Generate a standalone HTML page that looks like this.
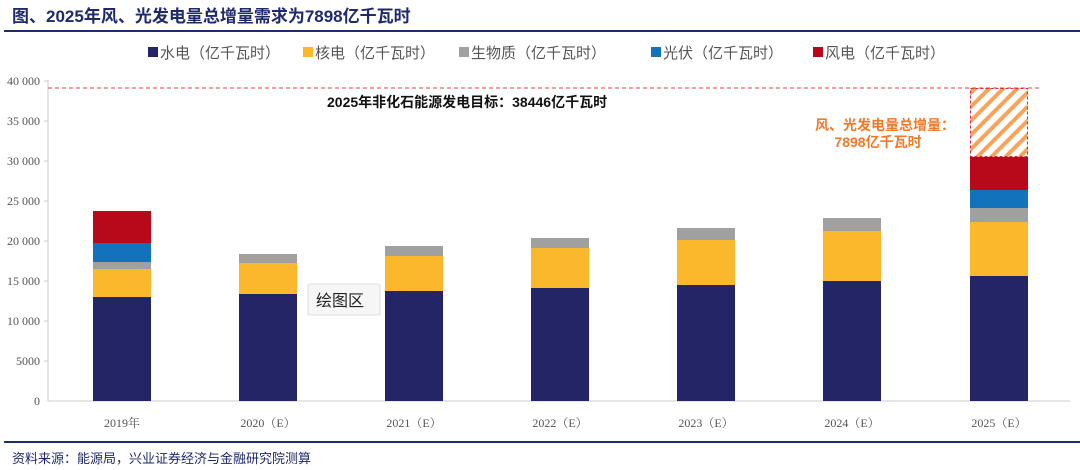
<!DOCTYPE html>
<html><head><meta charset="utf-8"><style>
body{margin:0;background:#fff;}
svg{display:block;font-family:"Liberation Sans","Noto Sans CJK SC",sans-serif;}
.t{font-family:"Liberation Serif","Noto Serif CJK SC",serif;fill:#555;font-size:12px;}
</style></head><body>
<svg width="1080" height="470" viewBox="0 0 1080 470">
<defs>
<pattern id="h" patternUnits="userSpaceOnUse" width="10" height="10" patternTransform="rotate(45)">
<rect x="0" y="0" width="4" height="10" fill="#f9a35a"/>
</pattern>
</defs>
<text x="12" y="22" font-size="17" font-weight="bold" fill="#1f2a6b">图、2025年风、光发电量总增量需求为7898亿千瓦时</text>
<rect x="4" y="30" width="1076" height="2" fill="#1f2a6b"/>
<!-- legend -->
<g font-size="15" fill="#555">
<rect x="148" y="47" width="10" height="10" fill="#232566"/><text x="160" y="58">水电（亿千瓦时）</text>
<rect x="303" y="47" width="10" height="10" fill="#fbb82d"/><text x="315" y="58">核电（亿千瓦时）</text>
<rect x="459" y="47" width="10" height="10" fill="#a0a0a0"/><text x="471" y="58">生物质（亿千瓦时）</text>
<rect x="651" y="47" width="10" height="10" fill="#1272bb"/><text x="663" y="58">光伏（亿千瓦时）</text>
<rect x="813" y="47" width="10" height="10" fill="#b8091a"/><text x="825" y="58">风电（亿千瓦时）</text>
</g>
<!-- axes -->
<line x1="48" y1="80" x2="48" y2="401" stroke="#ccc"/>
<line x1="48" y1="401" x2="1070" y2="401" stroke="#ccc"/>
<g class="t" text-anchor="end">
<text x="40" y="85">40 000</text><text x="40" y="125">35 000</text><text x="40" y="165">30 000</text>
<text x="40" y="205">25 000</text><text x="40" y="245">20 000</text><text x="40" y="285">15 000</text>
<text x="40" y="325">10 000</text><text x="40" y="365">5000</text><text x="40" y="405">0</text>
</g>
<g stroke="#ccc"><line x1="44" y1="81" x2="48" y2="81"/><line x1="44" y1="121" x2="48" y2="121"/><line x1="44" y1="161" x2="48" y2="161"/><line x1="44" y1="201" x2="48" y2="201"/><line x1="44" y1="241" x2="48" y2="241"/><line x1="44" y1="281" x2="48" y2="281"/><line x1="44" y1="321" x2="48" y2="321"/><line x1="44" y1="361" x2="48" y2="361"/></g>
<line x1="48" y1="88" x2="1042" y2="88" stroke="#e0404a" stroke-dasharray="4,3"/>
<!-- bars -->
<g>
<rect x="93" y="297" width="58" height="104" fill="#232566"/>
<rect x="93" y="269" width="58" height="28" fill="#fbb82d"/>
<rect x="93" y="262" width="58" height="7" fill="#a0a0a0"/>
<rect x="93" y="243" width="58" height="19" fill="#1272bb"/>
<rect x="93" y="211" width="58" height="32" fill="#b8091a"/>

<rect x="239" y="294" width="58" height="107" fill="#232566"/>
<rect x="239" y="263" width="58" height="31" fill="#fbb82d"/>
<rect x="239" y="254" width="58" height="9" fill="#a0a0a0"/>

<rect x="385" y="291" width="58" height="110" fill="#232566"/>
<rect x="385" y="256" width="58" height="35" fill="#fbb82d"/>
<rect x="385" y="246" width="58" height="10" fill="#a0a0a0"/>

<rect x="531" y="288" width="58" height="113" fill="#232566"/>
<rect x="531" y="248" width="58" height="40" fill="#fbb82d"/>
<rect x="531" y="238" width="58" height="10" fill="#a0a0a0"/>

<rect x="677" y="285" width="58" height="116" fill="#232566"/>
<rect x="677" y="240" width="58" height="45" fill="#fbb82d"/>
<rect x="677" y="228" width="58" height="12" fill="#a0a0a0"/>

<rect x="823" y="281" width="58" height="120" fill="#232566"/>
<rect x="823" y="231" width="58" height="50" fill="#fbb82d"/>
<rect x="823" y="218" width="58" height="13" fill="#a0a0a0"/>

<rect x="970" y="276" width="58" height="125" fill="#232566"/>
<rect x="970" y="222" width="58" height="54" fill="#fbb82d"/>
<rect x="970" y="208" width="58" height="14" fill="#a0a0a0"/>
<rect x="970" y="190" width="58" height="18" fill="#1272bb"/>
<rect x="970" y="157" width="58" height="33" fill="#b8091a"/>
<rect x="970.5" y="88.5" width="57" height="68" fill="url(#h)" stroke="#d8283a" stroke-dasharray="3,2"/>
</g>
<g class="t" font-size="13" text-anchor="middle">
<text x="122" y="427">2019年</text><text x="268" y="427">2020（E）</text><text x="414" y="427">2021（E）</text>
<text x="560" y="427">2022（E）</text><text x="706" y="427">2023（E）</text><text x="852" y="427">2024（E）</text><text x="999" y="427">2025（E）</text>
</g>
<text x="327" y="107" font-size="14" font-weight="bold" fill="#111">2025年非化石能源发电目标：38446亿千瓦时</text>
<g font-size="14" font-weight="bold" fill="#f07a2a" text-anchor="middle">
<text x="885" y="130">风、光发电量总增量：</text><text x="878" y="147">7898亿千瓦时</text>
</g>
<!-- tooltip -->
<rect x="308" y="284" width="72" height="31" fill="#f6f6f6" stroke="#ddd" rx="2"/>
<text x="316" y="306" font-size="16" fill="#222">绘图区</text>
<rect x="4" y="441" width="1076" height="2" fill="#1f2a6b"/>
<text x="12" y="463" font-size="13" fill="#1f2a6b">资料来源：能源局，兴业证券经济与金融研究院测算</text>
</svg>
</body></html>
